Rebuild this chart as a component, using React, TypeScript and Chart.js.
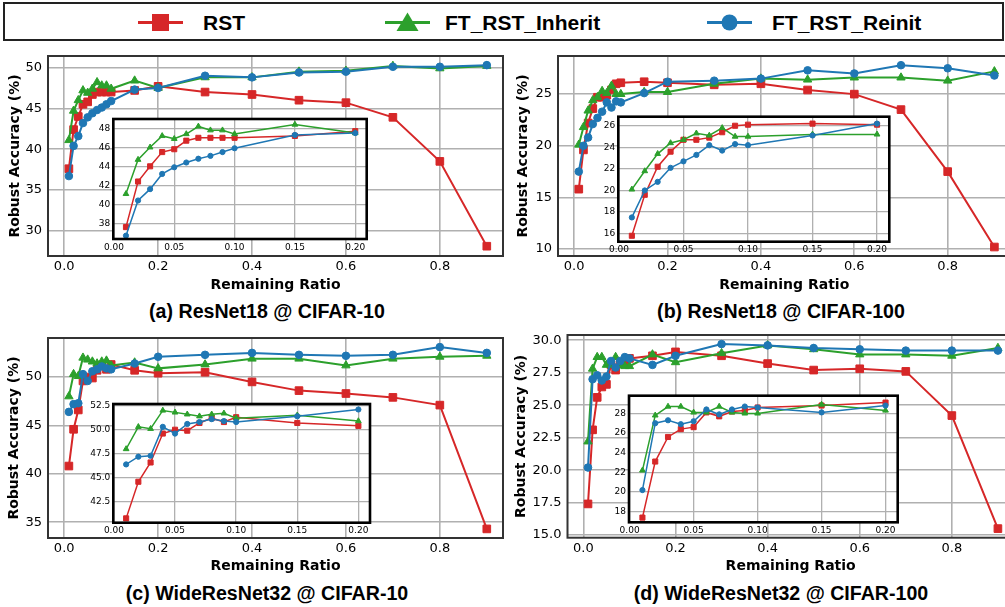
import React, { useEffect, useRef } from "react";
import { Chart, registerables } from "chart.js";
Chart.register(...registerables);

// ---------------- DATA ----------------
const RATIOS = [0.01, 0.02, 0.03, 0.04, 0.05, 0.06, 0.07, 0.08, 0.09, 0.1, 0.15, 0.2, 0.3, 0.4, 0.5, 0.6, 0.7, 0.8, 0.9];
const INSET_POINTS = 12; // ratios up to 0.2
const SERIES_NAMES = ["RST", "FT_RST_Inherit", "FT_RST_Reinit"];

// (a) ResNet18 @ CIFAR-10
const A_RST = [37.6, 42.4, 44.0, 45.5, 45.8, 46.7, 47.0, 47.0, 47.0, 47.0, 47.2, 47.7, 47.0, 46.7, 46.0, 45.7, 43.9, 38.5, 28.1];
const A_INHERIT = [41.1, 44.7, 46.0, 47.2, 46.9, 47.4, 48.2, 47.8, 47.8, 47.4, 48.4, 47.5, 48.8, 48.8, 49.5, 49.6, 50.2, 49.9, 50.2];
const A_REINIT = [36.7, 40.4, 41.6, 43.2, 43.9, 44.4, 44.8, 45.1, 45.5, 45.9, 47.3, 47.5, 49.0, 48.8, 49.4, 49.5, 50.1, 50.1, 50.3];

// (b) ResNet18 @ CIFAR-100
const B_RST = [15.8, 19.6, 22.2, 23.6, 24.7, 24.7, 24.9, 25.4, 26.0, 26.1, 26.2, 26.1, 25.9, 26.0, 25.4, 25.0, 23.5, 17.5, 10.2];
const B_INHERIT = [20.1, 21.8, 23.4, 24.4, 24.7, 25.3, 25.1, 25.8, 25.0, 25.0, 25.2, 25.2, 26.0, 26.5, 26.4, 26.6, 26.6, 26.3, 27.2];
const B_REINIT = [17.5, 20.0, 20.8, 22.1, 22.7, 23.3, 24.2, 23.7, 24.3, 24.2, 25.1, 26.2, 26.3, 26.5, 27.3, 27.0, 27.8, 27.5, 26.8];

// (c) WideResNet32 @ CIFAR-10
const C_RST = [40.8, 44.6, 46.6, 49.6, 50.0, 49.9, 50.7, 51.2, 50.8, 51.3, 50.7, 50.4, 50.5, 49.5, 48.6, 48.3, 47.9, 47.1, 34.3];
const C_INHERIT = [48.0, 50.3, 50.1, 52.0, 51.8, 51.6, 51.4, 51.6, 51.7, 51.2, 51.5, 50.9, 51.3, 51.9, 51.9, 51.2, 51.9, 52.1, 52.2];
const C_REINIT = [46.4, 47.2, 47.3, 50.3, 49.6, 50.6, 50.8, 51.1, 50.9, 50.8, 51.4, 52.1, 52.3, 52.5, 52.3, 52.2, 52.3, 53.1, 52.5];

// (d) WideResNet32 @ CIFAR-100
const D_RST = [17.4, 23.1, 25.6, 26.4, 26.6, 28.1, 27.7, 28.2, 28.3, 28.6, 28.8, 29.1, 28.8, 28.2, 27.7, 27.8, 27.6, 24.2, 15.5];
const D_INHERIT = [22.2, 27.8, 28.7, 28.7, 28.1, 28.1, 28.7, 28.1, 28.0, 28.0, 28.9, 28.3, 29.0, 29.6, 29.3, 28.9, 28.9, 28.8, 29.4];
const D_REINIT = [20.2, 27.0, 27.3, 26.9, 27.2, 28.4, 27.9, 28.4, 28.7, 28.6, 28.1, 28.8, 29.7, 29.6, 29.4, 29.3, 29.2, 29.2, 29.2];

// ticks
const MAIN_X_TICKS = [0, 0.2, 0.4, 0.6, 0.8];
const INSET_X_TICKS = [0, 0.05, 0.1, 0.15, 0.2];
const A_Y_TICKS = [30, 35, 40, 45, 50];
const A_INSET_Y_TICKS = [38, 40, 42, 44, 46, 48];
const B_Y_TICKS = [10, 15, 20, 25];
const B_INSET_Y_TICKS = [16, 18, 20, 22, 24, 26];
const C_Y_TICKS = [35, 40, 45, 50];
const C_INSET_Y_TICKS = [42.5, 45, 47.5, 50, 52.5];
const D_Y_TICKS = [15, 17.5, 20, 22.5, 25, 27.5, 30];
const D_INSET_Y_TICKS = [18, 20, 22, 24, 26, 28];

const CAPTIONS = ["(a) ResNet18 @ CIFAR-10", "(b) ResNet18 @ CIFAR-100", "(c) WideResNet32 @ CIFAR-10", "(d) WideResNet32 @ CIFAR-100"];

// ---------------- STYLE / LAYOUT ----------------
const COLORS = ["#d62728", "#2ca02c", "#1f77b4"];
const POINT_STYLES = ["rect", "triangle", "circle"];
const MAIN_RADII = [5.4, 4.8, 3.8];
const INSET_RADII = [3.6, 3.3, 2.6];
const ORDERS = [2, 1, 0];

type Area = { l: number; t: number; r: number; b: number };
type Panel = {
  series: number[][];
  area: Area;
  yRange: [number, number];
  yTicks: number[];
  yDec: number;
  yTitleX: number;
  xTitleY: number;
  inset: Area;
  insetY: [number, number];
  insetTicks: number[];
  insetDec: number;
};

const PANELS: Panel[] = [
  {
    series: [A_RST, A_INHERIT, A_REINIT],
    area: { l: 48, t: 56, r: 503, b: 256 }, yRange: [26.9, 51.42], yTicks: A_Y_TICKS, yDec: 0, yTitleX: 15, xTitleY: 285,
    inset: { l: 113.3, t: 119, r: 366.7, b: 239 }, insetY: [36.35, 48.98], insetTicks: A_INSET_Y_TICKS, insetDec: 0,
  },
  {
    series: [B_RST, B_INHERIT, B_REINIT],
    area: { l: 558, t: 56, r: 1010.5, b: 256 }, yRange: [9.33, 28.69], yTicks: B_Y_TICKS, yDec: 0, yTitleX: 523.3, xTitleY: 285,
    inset: { l: 618.3, t: 116.7, r: 889.3, b: 241.7 }, insetY: [15.25, 26.84], insetTicks: B_INSET_Y_TICKS, insetDec: 0,
  },
  {
    series: [C_RST, C_INHERIT, C_REINIT],
    area: { l: 48, t: 338, r: 503, b: 538 }, yRange: [33.36, 54.04], yTicks: C_Y_TICKS, yDec: 0, yTitleX: 14, xTitleY: 566.7,
    inset: { l: 113.3, t: 404, r: 370, b: 522.7 }, insetY: [40.35, 52.67], insetTicks: C_INSET_Y_TICKS, insetDec: 1,
  },
  {
    series: [D_RST, D_INHERIT, D_REINIT],
    area: { l: 567.5, t: 335, r: 1013.8, b: 537.7 }, yRange: [14.8, 30.4], yTicks: D_Y_TICKS, yDec: 1, yTitleX: 521.7, xTitleY: 566.7,
    inset: { l: 629, t: 395.7, r: 897.7, b: 522.3 }, insetY: [16.92, 29.8], insetTicks: D_INSET_Y_TICKS, insetDec: 0,
  },
];
const CAPTION_POS = [[267, 318], [781, 318], [267, 600], [781, 600]];

const framePlugin = {
  id: "frame",
  beforeDraw(chart: any, _a: any, opts: any) {
    if (!opts.fill) return;
    const { ctx, chartArea: a } = chart;
    ctx.save();
    ctx.fillStyle = opts.fill;
    ctx.fillRect(a.left, a.top, a.right - a.left, a.bottom - a.top);
    ctx.restore();
  },
  afterDraw(chart: any, _a: any, opts: any) {
    const { ctx, chartArea: a } = chart;
    ctx.save();
    ctx.strokeStyle = opts.color;
    ctx.lineWidth = opts.width;
    ctx.strokeRect(a.left, a.top, a.right - a.left, a.bottom - a.top);
    ctx.restore();
  },
};

type Spec = {
  key: string;
  canvas: { left: number; top: number; width: number; height: number };
  config: any;
};

function buildSpec(p: Panel, idx: number, inset: boolean): Spec {
  const area = inset ? p.inset : p.area;
  let left: number, top: number, right: number, bottom: number;
  let titlePadY = 0, titlePadX = 0;
  if (inset) {
    left = Math.floor(area.l - 28);
    top = Math.floor(area.t - 12);
    bottom = Math.ceil(area.b + 18);
    right = Math.ceil(area.r + 14);
  } else {
    left = Math.floor(p.yTitleX - 12);
    top = Math.floor(area.t - 20);
    bottom = Math.ceil(p.xTitleY + 12);
    right = Math.ceil(area.r + 20);
    titlePadY = p.yTitleX - left - 8.4;
    titlePadX = bottom - p.xTitleY - 8.4;
  }
  const W = area.l - left;
  const H = bottom - area.b;
  const n = inset ? INSET_POINTS : RATIOS.length;
  const radii = inset ? INSET_RADII : MAIN_RADII;
  const datasets = p.series.map((vals, s) => ({
    label: SERIES_NAMES[s],
    data: RATIOS.slice(0, n).map((x, i) => ({ x, y: vals[i] })),
    borderColor: COLORS[s],
    backgroundColor: COLORS[s],
    pointBackgroundColor: COLORS[s],
    pointBorderColor: COLORS[s],
    pointStyle: POINT_STYLES[s],
    pointRadius: radii[s],
    pointBorderWidth: 1,
    borderWidth: inset ? 1.5 : 2,
    tension: 0,
    order: ORDERS[s],
  }));
  const tickFont = { family: "DejaVu Sans", size: inset ? 9 : 13, lineHeight: 1.2 };
  const titleFont = { family: "DejaVu Sans", size: 14, weight: "bold", lineHeight: 1.2 };
  const xTicks = inset ? INSET_X_TICKS : MAIN_X_TICKS;
  const xDec = inset ? 2 : 1;
  const yTicks = inset ? p.insetTicks : p.yTicks;
  const yDec = inset ? p.insetDec : p.yDec;
  const yRange = inset ? p.insetY : p.yRange;
  const grid = { color: "#b0b0b0", lineWidth: inset ? 1.3 : 1.6, drawTicks: false };
  const config = {
    type: "line",
    data: { datasets },
    plugins: [framePlugin],
    options: {
      animation: false,
      responsive: false,
      events: [],
      layout: { padding: { left: 0, bottom: 0, top: area.t - top, right: right - area.r } },
      plugins: {
        legend: { display: false },
        tooltip: { enabled: false },
        frame: inset ? { fill: "#ffffff", color: "#000000", width: 2.6 } : { fill: null, color: "#333333", width: 2 },
      },
      scales: {
        x: {
          type: "linear",
          min: inset ? -0.0005 : -0.0345,
          max: inset ? 0.2095 : 0.9345,
          afterBuildTicks: (s: any) => { s.ticks = xTicks.map((v) => ({ value: v })); },
          afterFit: (s: any) => { s.height = H; },
          grid,
          border: { display: false },
          ticks: {
            autoSkip: false, maxRotation: 0, minRotation: 0,
            padding: 3, color: "#000", font: tickFont,
            callback: (v: any) => Number(v).toFixed(xDec),
          },
          title: inset
            ? { display: false }
            : { display: true, text: "Remaining Ratio", color: "#000", font: titleFont, padding: { top: 0, bottom: titlePadX } },
        },
        y: {
          type: "linear",
          min: yRange[0],
          max: yRange[1],
          afterBuildTicks: (s: any) => { s.ticks = yTicks.map((v) => ({ value: v })); },
          afterFit: (s: any) => { s.width = W; },
          grid,
          border: { display: false },
          ticks: {
            autoSkip: false, padding: inset ? 3 : 6, color: "#000", font: tickFont,
            callback: (v: any) => Number(v).toFixed(yDec),
          },
          title: inset
            ? { display: false }
            : { display: true, text: "Robust Accuracy (%)", color: "#000", font: titleFont, padding: { top: titlePadY, bottom: 0 } },
        },
      },
    },
  };
  return {
    key: `${idx}-${inset ? "inset" : "main"}`,
    canvas: { left, top, width: right - left, height: bottom - top },
    config,
  };
}

const SPECS: Spec[] = [
  ...PANELS.map((p, i) => buildSpec(p, i, false)),
  ...PANELS.map((p, i) => buildSpec(p, i, true)),
];

function Legend() {
  const cy = 22.5;
  return (
    <g>
      <rect x={4} y={3} width={999} height={37} fill="#ffffff" stroke="#222222" strokeWidth={2} />
      <line x1={138} x2={183} y1={cy} y2={cy} stroke={COLORS[0]} strokeWidth={3} />
      <rect x={152} y={cy - 8.5} width={17} height={17} fill={COLORS[0]} />
      <text x={203} y={30} fontFamily="Liberation Sans, Arial, sans-serif" fontWeight="bold" fontSize={21} fill="#000">{SERIES_NAMES[0]}</text>
      <line x1={385} x2={430} y1={cy} y2={cy} stroke={COLORS[1]} strokeWidth={3} />
      <polygon points={`407.5,12.5 396.5,31 418.5,31`} fill={COLORS[1]} />
      <text x={445} y={30} fontFamily="Liberation Sans, Arial, sans-serif" fontWeight="bold" fontSize={21} fill="#000">{SERIES_NAMES[1]}</text>
      <line x1={707} x2={752} y1={cy} y2={cy} stroke={COLORS[2]} strokeWidth={3} />
      <circle cx={729.5} cy={cy} r={8} fill={COLORS[2]} />
      <text x={772} y={30} fontFamily="Liberation Sans, Arial, sans-serif" fontWeight="bold" fontSize={21} fill="#000">{SERIES_NAMES[2]}</text>
    </g>
  );
}

export default function App() {
  const refs = useRef<(HTMLCanvasElement | null)[]>([]);
  useEffect(() => {
    const charts = SPECS.map((s, i) => new Chart(refs.current[i] as HTMLCanvasElement, s.config));
    return () => charts.forEach((c) => c.destroy());
  }, []);
  return (
    <div style={{ position: "absolute", left: 0, top: 0, width: 1005, height: 607, overflow: "hidden", background: "#fff" }}>
      <svg width={1005} height={607} style={{ position: "absolute", left: 0, top: 0 }}>
        <Legend />
        {CAPTIONS.map((c, i) => (
          <text key={c} x={CAPTION_POS[i][0]} y={CAPTION_POS[i][1]} textAnchor="middle" fontFamily="Liberation Sans, Arial, sans-serif" fontWeight="bold" fontSize={19.6} fill="#000">{c}</text>
        ))}
      </svg>
      {SPECS.map((s, i) => (
        <canvas
          key={s.key}
          ref={(el) => { refs.current[i] = el; }}
          width={s.canvas.width}
          height={s.canvas.height}
          style={{ position: "absolute", left: s.canvas.left, top: s.canvas.top, width: s.canvas.width, height: s.canvas.height }}
        />
      ))}
    </div>
  );
}
